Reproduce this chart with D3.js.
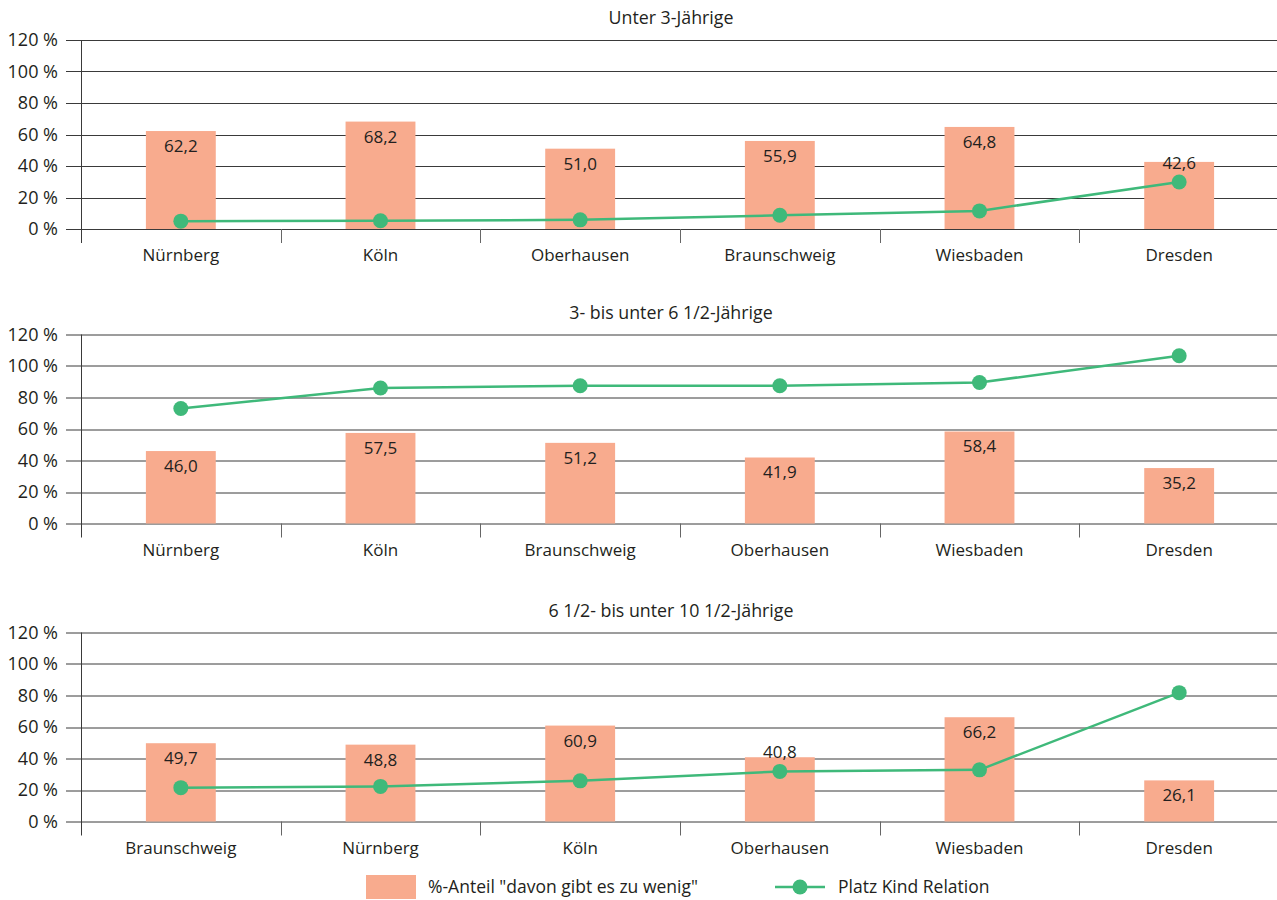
<!DOCTYPE html>
<html>
<head>
<meta charset="utf-8">
<script src="https://cdn.jsdelivr.net/npm/d3@7"></script>
<style>
  html, body { margin: 0; padding: 0; background: #fff; }
  svg text { font-family: "Open Sans", "Noto Sans", sans-serif; fill: #231f20; }
</style>
</head>
<body>
<div id="chart"></div>
<script>
// panel titles
const panelTitles = ['Unter 3-Jährige', '3- bis unter 6 1/2-Jährige', '6 1/2- bis unter 10 1/2-Jährige'];

// categories per panel (order differs)
const cities1 = ['Nürnberg', 'Köln', 'Oberhausen', 'Braunschweig', 'Wiesbaden', 'Dresden'];
const cities2 = ['Nürnberg', 'Köln', 'Braunschweig', 'Oberhausen', 'Wiesbaden', 'Dresden'];
const cities3 = ['Braunschweig', 'Nürnberg', 'Köln', 'Oberhausen', 'Wiesbaden', 'Dresden'];

// %-Anteil "davon gibt es zu wenig"
const share1 = [62.2, 68.2, 51.0, 55.9, 64.8, 42.6];
const share2 = [46.0, 57.5, 51.2, 41.9, 58.4, 35.2];
const share3 = [49.7, 48.8, 60.9, 40.8, 66.2, 26.1];

// Platz Kind Relation
const relation1 = [5.0, 5.2, 5.8, 8.7, 11.5, 29.8];
const relation2 = [73.0, 86.0, 87.5, 87.5, 89.5, 106.5];
const relation3 = [21.5, 22.3, 25.8, 31.8, 32.8, 81.8];

const yTicks = [0, 20, 40, 60, 80, 100, 120];
const legendLabels = ['%-Anteil "davon gibt es zu wenig"', 'Platz Kind Relation'];

const panels = [
  { title: panelTitles[0], cats: cities1, bars: share1, line: relation1 },
  { title: panelTitles[1], cats: cities2, bars: share2, line: relation2 },
  { title: panelTitles[2], cats: cities3, bars: share3, line: relation3 }
];

const width = 1277, height = 900;
const barColor = '#f8ab8e', lineColor = '#3fb97a', gridColor = '#3a3a3a';
const left = 81, right = 1279;
const panelTop = [40, 334.5, 632.5];   // y of 120 %
const plotH = 189;

const svg = d3.select('#chart').append('svg')
  .attr('width', width).attr('height', height);

const fmt = v => d3.format('.1f')(v).replace('.', ',');

panels.forEach((p, i) => {
  const g = svg.append('g').attr('transform', `translate(0,${panelTop[i]})`);
  const x = d3.scaleBand().domain(p.cats).range([left, right]);
  const y = d3.scaleLinear().domain([0, 120]).range([plotH, 0]);
  const bw = x.bandwidth() * 0.35;

  // title
  g.append('text').attr('x', 671).attr('y', -16)
    .attr('text-anchor', 'middle').style('font-size', '17.8px').text(p.title);

  // gridlines + y labels
  g.selectAll('.grid').data(yTicks).join('line')
    .attr('x1', 66).attr('x2', width)
    .attr('y1', d => Math.round(y(d)) + 0.5).attr('y2', d => Math.round(y(d)) + 0.5)
    .attr('stroke', gridColor).attr('stroke-width', 1);
  g.selectAll('.ylab').data(yTicks).join('text')
    .attr('x', 58).attr('y', d => y(d)).attr('dy', '0.35em')
    .attr('text-anchor', 'end').style('font-size', '18px')
    .text(d => d + ' %');

  // y axis line
  g.append('line').attr('x1', left + 0.5).attr('x2', left + 0.5)
    .attr('y1', Math.round(y(120))).attr('y2', plotH + 14)
    .attr('stroke', gridColor);

  // category separator ticks
  const seps = p.cats.slice(1).map(c => x(c));
  g.selectAll('.sep').data(seps).join('line')
    .attr('x1', d => Math.round(d) + 0.5).attr('x2', d => Math.round(d) + 0.5)
    .attr('y1', plotH).attr('y2', plotH + 14)
    .attr('stroke', '#666');

  // category labels
  g.selectAll('.xlab').data(p.cats).join('text')
    .attr('x', d => x(d) + x.bandwidth() / 2).attr('y', plotH + 32)
    .attr('text-anchor', 'middle').style('font-size', '17px').text(d => d);

  // bars
  g.selectAll('.bar').data(p.bars).join('rect')
    .attr('x', (d, j) => x(p.cats[j]) + x.bandwidth() / 2 - bw / 2)
    .attr('width', bw)
    .attr('y', d => y(d)).attr('height', d => y(0) - y(d))
    .attr('fill', barColor);

  // line
  const cx = j => x(p.cats[j]) + x.bandwidth() / 2;
  g.append('path').datum(p.line)
    .attr('d', d3.line().x((d, j) => cx(j)).y(d => y(d)))
    .attr('fill', 'none').attr('stroke', lineColor).attr('stroke-width', 2.5);
  g.selectAll('.dot').data(p.line).join('circle')
    .attr('cx', (d, j) => cx(j)).attr('cy', d => y(d)).attr('r', 7.5)
    .attr('fill', lineColor);

  // bar value labels (moved up when the marker sits under them)
  g.selectAll('.val').data(p.bars).join('text')
    .attr('x', (d, j) => cx(j))
    .attr('y', (d, j) => {
      const normal = y(d) + 15;
      const my = y(p.line[j]);
      return (my > normal - 12 && my < normal + 14) ? Math.min(normal, my - 19) : normal;
    })
    .attr('dy', '0.35em').attr('text-anchor', 'middle')
    .style('font-size', '17px').text(d => fmt(d));
});

// legend
const lg = svg.append('g');
lg.append('rect').attr('x', 366).attr('y', 875).attr('width', 50).attr('height', 24).attr('fill', barColor);
lg.append('text').attr('x', 428).attr('y', 887).attr('dy', '0.35em')
  .style('font-size', '17.5px').text(legendLabels[0]);
lg.append('line').attr('x1', 775).attr('x2', 825).attr('y1', 887).attr('y2', 887)
  .attr('stroke', lineColor).attr('stroke-width', 2.5);
lg.append('circle').attr('cx', 800).attr('cy', 887).attr('r', 7.5).attr('fill', lineColor);
lg.append('text').attr('x', 838).attr('y', 887).attr('dy', '0.35em')
  .style('font-size', '17.5px').text(legendLabels[1]);
</script>
</body>
</html>
